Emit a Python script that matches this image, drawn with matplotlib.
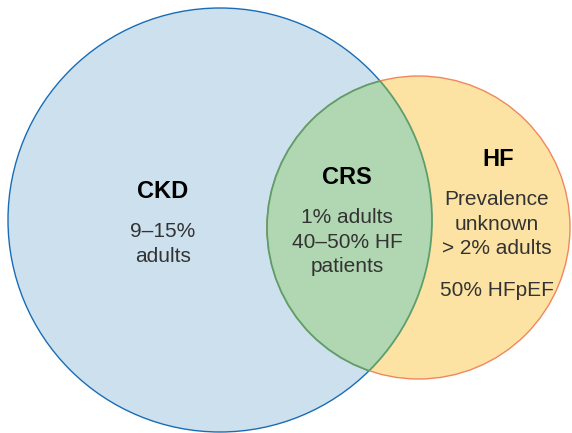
import matplotlib
matplotlib.use("Agg")
import matplotlib.pyplot as plt
from matplotlib.patches import Circle

plt.rcParams['font.family'] = ['Liberation Sans', 'DejaVu Sans']

# Sets (pixel geometry of the Venn diagram)
set_names = ["CKD", "HF"]
centers = [(220, 220), (418.5, 227.5)]
radii = [212, 151.5]
fills = ["#cce0ee", "#fce3a3"]
edges = ["#1a6db5", "#f0875e"]
overlap_fill = "#b0d7b1"
overlap_edge = "#5e9e6a"

# Labels
titles = ["CKD", "CRS", "HF"]
title_pos = [(163, 192), (347, 178), (498, 160)]
bodies = ["9–15%\nadults", "1% adults\n40–50% HF\npatients", "Prevalence\nunknown\n> 2% adults"]
body_pos = [(163, 244), (347, 242), (497, 224)]
extra_text = "50% HFpEF"
extra_pos = (497, 290)

W, H = 572, 433
fig = plt.figure(figsize=(W / 100, H / 100), dpi=100)
ax = fig.add_axes([0, 0, 1, 1])
ax.set_xlim(0, W)
ax.set_ylim(H, 0)
ax.set_aspect('equal')
ax.axis('off')

lw = 1.0
big = Circle(centers[0], radii[0], facecolor=fills[0], edgecolor=edges[0], lw=lw, zorder=1)
small = Circle(centers[1], radii[1], facecolor=fills[1], edgecolor=edges[1], lw=lw, zorder=1)
ax.add_patch(big)
ax.add_patch(small)

# clip shapes
clip_big = Circle(centers[0], radii[0], transform=ax.transData)
clip_small = Circle(centers[1], radii[1], transform=ax.transData)

# overlap fill
ov = Circle(centers[1], radii[1], facecolor=overlap_fill, edgecolor='none', zorder=2)
ax.add_patch(ov)
ov.set_clip_path(clip_big)

# green edges inside overlap
e1 = Circle(centers[1], radii[1], facecolor='none', edgecolor=overlap_edge, lw=lw + 0.3, zorder=3)
ax.add_patch(e1)
e1.set_clip_path(clip_big)
e2 = Circle(centers[0], radii[0], facecolor='none', edgecolor=overlap_edge, lw=lw + 0.3, zorder=3)
ax.add_patch(e2)
e2.set_clip_path(clip_small)

for t, (x, y) in zip(titles, title_pos):
    ax.text(x, y, t, ha='center', va='center', fontsize=17, fontweight='bold', color='black', zorder=5)

for t, (x, y) in zip(bodies, body_pos):
    ax.text(x, y, t, ha='center', va='center', fontsize=15, color='#333333',
            linespacing=1.38, zorder=5)

ax.text(extra_pos[0], extra_pos[1], extra_text, ha='center', va='center', fontsize=15,
        color='#333333', zorder=5)

fig.savefig("out.png", dpi=100)
